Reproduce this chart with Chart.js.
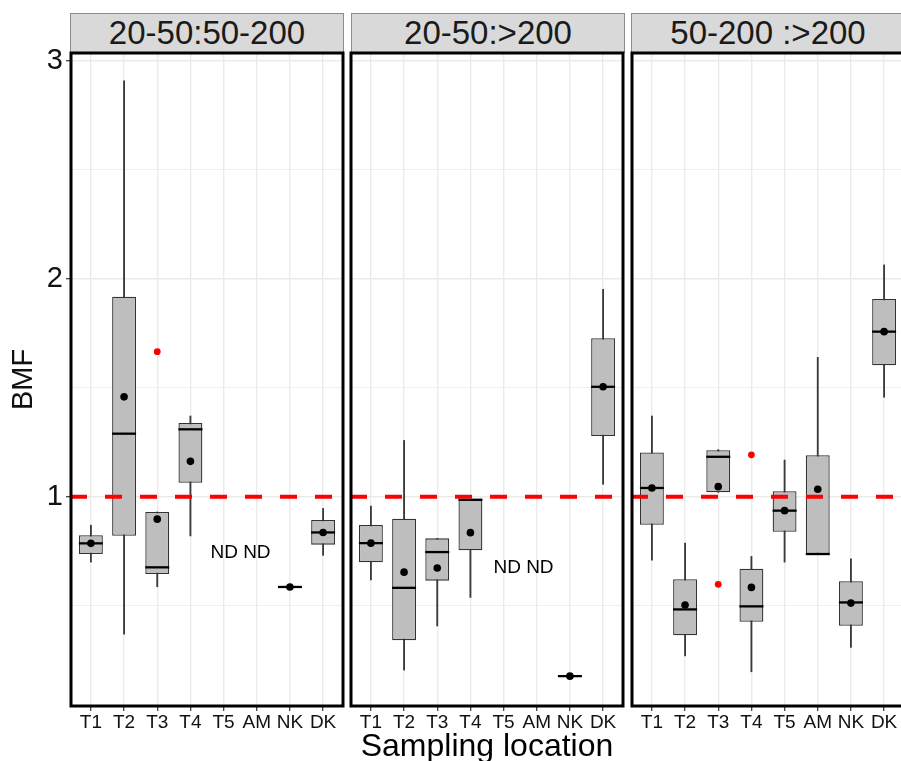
<!DOCTYPE html>
<html><head><meta charset="utf-8">
<script src="https://cdn.jsdelivr.net/npm/chart.js@4.4.1/dist/chart.umd.min.js"></script>
<style>
html,body{margin:0;padding:0;width:901px;height:761px;overflow:hidden;background:#fff;}
#wrap{position:relative;width:901px;height:761px;overflow:hidden;}
canvas{position:absolute;top:0;}
.strip{position:absolute;top:13px;height:40px;box-sizing:border-box;background:#D9D9D9;border:1px solid #8c8c8c;font-family:'Liberation Sans',Arial,sans-serif;font-size:33px;color:#1a1a1a;text-align:center;line-height:38px;white-space:nowrap;}
</style></head><body><div id="wrap">
<div class="strip" id="s0" style="left:70px;width:274px;"></div>
<div class="strip" id="s1" style="left:351px;width:274px;"></div>
<div class="strip" id="s2" style="left:631px;width:274px;"></div>
<canvas id="c0" width="347" height="761" style="left:0px"></canvas>
<canvas id="c1" width="280" height="761" style="left:347px"></canvas>
<canvas id="c2" width="281" height="761" style="left:627px"></canvas>
</div>
<script>
// ---- data ----
const categories = ['T1','T2','T3','T4','T5','AM','NK','DK'];
const panelTitles = ['20-50:50-200','20-50:>200','50-200 :>200'];
const yTickValues = [0.5, 1, 1.5, 2, 2.5, 3];
const refValue = 1;
const xTitle = 'Sampling location';
const yTitle = 'BMF';
const ndText = 'ND ND';
const ndX = [4.51, 4.60, null];
const ndY = [0.744, 0.672, null];

// panel 1: 20-50:50-200
const lowA  = [0.700, 0.369, 0.587, 0.820, null, null, 0.586, 0.731];
const q1A   = [0.737, 0.821, 0.645, 1.064, null, null, 0.586, 0.780];
const medA  = [0.786, 1.289, 0.676, 1.309, null, null, 0.586, 0.836];
const q3A   = [0.823, 1.917, 0.930, 1.338, null, null, 0.586, 0.893];
const highA = [0.869, 2.907, 0.930, 1.370, null, null, 0.586, 0.946];
const meanA = [0.786, 1.458, 0.897, 1.162, null, null, 0.586, 0.836];
const outA  = [null, null, 1.665, null, null, null, null, null];

// panel 2: 20-50:>200
const lowB  = [0.618, 0.205, 0.407, 0.538, null, null, 0.177, 1.057];
const q1B   = [0.699, 0.342, 0.615, 0.754, null, null, 0.177, 1.278];
const medB  = [0.787, 0.582, 0.746, 0.986, null, null, 0.177, 1.504];
const q3B   = [0.870, 0.899, 0.809, 0.986, null, null, 0.177, 1.727];
const highB = [0.957, 1.258, 0.809, 0.986, null, null, 0.177, 1.951];
const meanB = [0.787, 0.654, 0.673, 0.835, null, null, 0.177, 1.504];
const outB  = [null, null, null, null, null, null, null, null];

// panel 3: 50-200 :>200
const lowC  = [0.709, 0.270, 1.020, 0.197, 0.700, 0.737, 0.309, 1.456];
const q1C   = [0.871, 0.364, 1.020, 0.426, 0.839, 0.737, 0.408, 1.603];
const medC  = [1.040, 0.483, 1.183, 0.497, 0.936, 0.737, 0.515, 1.757];
const q3C   = [1.203, 0.621, 1.213, 0.670, 1.025, 1.190, 0.612, 1.907];
const highC = [1.370, 0.787, 1.216, 0.726, 1.168, 1.639, 0.715, 2.063];
const meanC = [1.040, 0.503, 1.046, 0.584, 0.936, 1.034, 0.512, 1.757];
const outC  = [null, null, 0.598, 1.192, null, null, null, null];

const panels = [
  {low: lowA, q1: q1A, med: medA, q3: q3A, high: highA, mean: meanA, out: outA},
  {low: lowB, q1: q1B, med: medB, q3: q3B, high: highB, mean: meanB, out: outB},
  {low: lowC, q1: q1C, med: medC, q3: q3C, high: highC, mean: meanC, out: outC}
];

panelTitles.forEach((t, i) => { document.getElementById('s' + i).textContent = t; });

Chart.defaults.font.family = "'Liberation Sans', Arial, sans-serif";
Chart.defaults.color = '#111';

function pts(arr) { return arr.map((v, i) => v == null ? null : {x: i, y: v}).filter(Boolean); }
function ranges(a, b) { return a.map((v, i) => v == null ? null : {x: i, y: [v, b[i]]}).filter(Boolean); }

const decor = {
  id: 'decor',
  afterDatasetsDraw(chart, args, o) {
    const {ctx, chartArea: a, scales: {x, y}} = chart;
    ctx.save();
    if (o.ndX != null) {
      ctx.font = "19px 'Liberation Sans', Arial, sans-serif";
      ctx.fillStyle = '#000';
      ctx.textAlign = 'center';
      ctx.textBaseline = 'middle';
      ctx.fillText(ndText, x.getPixelForValue(o.ndX), y.getPixelForValue(o.ndY));
    }
    ctx.lineWidth = 3;
    ctx.strokeStyle = '#000';
    ctx.strokeRect(a.left, a.top, a.right - a.left, a.bottom - a.top);
    ctx.restore();
  }
};

function makeChart(idx) {
  const p = panels[idx];
  const first = idx === 0, mid = idx === 1;
  new Chart(document.getElementById('c' + idx), {
    type: 'bar',
    plugins: [decor],
    data: { datasets: [
      {type: 'bar', data: ranges(p.low, p.high), backgroundColor: '#3a3a3a', borderWidth: 0, grouped: false,
       barPercentage: 1, categoryPercentage: 1, maxBarThickness: 1.2, order: 6},
      {type: 'bar', data: ranges(p.q1, p.q3), backgroundColor: '#BEBEBE', borderColor: '#333', borderWidth: 1.3,
       borderSkipped: false, grouped: false, barPercentage: 0.72, categoryPercentage: 1, order: 5},
      {type: 'line', data: pts(p.med), showLine: false, pointStyle: 'line', pointRadius: 12,
       pointBorderWidth: 2.3, pointBorderColor: '#000', borderColor: '#000', order: 4},
      {type: 'line', data: [{x: -0.6, y: refValue}, {x: 7.6, y: refValue}], borderColor: '#FF0000',
       borderWidth: 4, borderDash: [17, 18], borderDashOffset: 1, pointRadius: 0, order: 3},
      {type: 'line', data: pts(p.mean), showLine: false, pointRadius: 3.8, pointBackgroundColor: '#000',
       pointBorderWidth: 0, order: 2},
      {type: 'line', data: pts(p.out), showLine: false, pointRadius: 3.4, pointBackgroundColor: '#FF0000',
       pointBorderWidth: 0, order: 1}
    ]},
    options: {
      responsive: false,
      animation: false,
      events: [],
      layout: {autoPadding: false, padding: {top: 53, bottom: 0, left: first ? 0 : (idx === 1 ? 4 : 5), right: 4}},
      plugins: {legend: {display: false}, tooltip: {enabled: false}, decor: {ndX: ndX[idx], ndY: ndY[idx]}},
      scales: {
        x: {
          type: 'linear', min: -0.6, max: 7.6, offset: false,
          grid: {offset: false, color: '#EBEBEB', lineWidth: 1.4, drawTicks: true, tickLength: 5, tickColor: '#333', tickWidth: 1.2},
          border: {display: false},
          afterBuildTicks: s => { s.ticks = categories.map((c, i) => ({value: i})); },
          ticks: {autoSkip: false, maxRotation: 0, minRotation: 0, padding: 0, font: {size: 19}, color: '#111',
                  callback: v => categories[v] ?? ''},
          title: mid ? {display: true, text: xTitle, font: {size: 32, lineHeight: 0.875}, color: '#000', padding: 0} : {display: false},
          afterFit: s => { s.height = 55; }
        },
        y: {
          type: 'linear', min: 0.04, max: 3.035,
          grid: {color: '#EBEBEB',
                 lineWidth: c => Number.isInteger(c.tick.value) ? 1.4 : 0.8,
                 drawTicks: first, tickLength: 5,
                 tickColor: c => Number.isInteger(c.tick.value) ? '#333' : 'rgba(0,0,0,0)', tickWidth: 1.2},
          border: {display: false},
          afterBuildTicks: s => { s.ticks = yTickValues.map(v => ({value: v})); },
          ticks: {display: first, padding: 3, font: {size: 29}, color: '#111',
                  callback: v => Number.isInteger(v) ? String(v) : ''},
          title: first ? {display: true, text: yTitle, font: {size: 29}, color: '#111', padding: {top: 6.8, bottom: 0}} : {display: false},
          afterFit: s => { s.width = first ? 71 : 0; }
        }
      }
    }
  });
}
[0, 1, 2].forEach(makeChart);
</script>
</body></html>
